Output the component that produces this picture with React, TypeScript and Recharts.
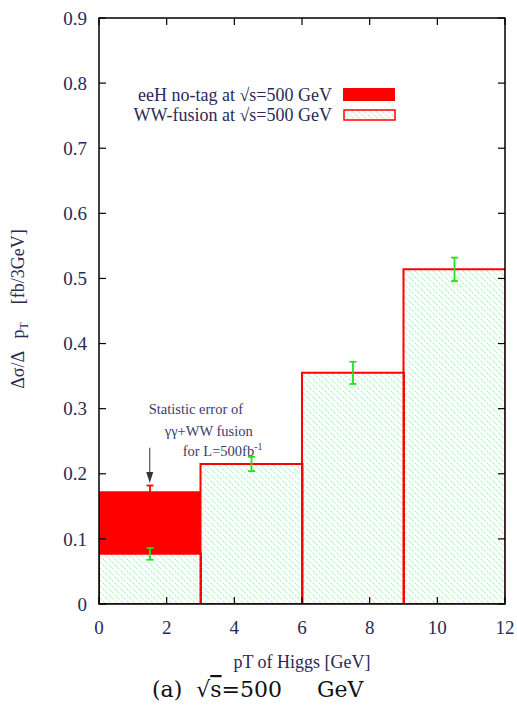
import {
  ComposedChart,
  Bar,
  XAxis,
  YAxis,
  ErrorBar,
  Legend,
  ReferenceArea,
  ReferenceDot,
  ReferenceLine,
} from "recharts";

// bins of 3 GeV, centres on the pT axis
const binCenters = [1.5, 4.5, 7.5, 10.5];
const wwFusion = [0.077, 0.215, 0.355, 0.514];
const wwError = [0.009, 0.011, 0.017, 0.018];
// eeH no-tag sits on top of WW-fusion (only first bin)
const eeNoTag = [0.096, 0, 0, 0];
const eeError = [0.009, null, null, null];

const xTicks = [0, 2, 4, 6, 8, 10, 12];
const yTicks = [0, 0.1, 0.2, 0.3, 0.4, 0.5, 0.6, 0.7, 0.8, 0.9];

const legendNames = ["eeH no-tag at √s=500 GeV", "WW-fusion at √s=500 GeV"];

const data = binCenters.map((x, i) => ({
  pt: x,
  ww: wwFusion[i],
  wwErr: wwError[i],
  ee: eeNoTag[i],
  eeErr: eeError[i],
}));

const W = 517;
const H = 705;
const TOP = 18;
const LEFT = 99;
const RIGHT = W - 12;
const SERIF = "'Liberation Serif', 'Times New Roman', serif";
const INK = "#2a2a55";

const XTick = ({ x, y, payload }: any) => (
  <g>
    <line x1={x} x2={x} y1={y} y2={y - 7} stroke="#000" strokeWidth={1.2} />
    <line x1={x} x2={x} y1={TOP} y2={TOP + 7} stroke="#000" strokeWidth={1.2} />
    <text x={x} y={y + 30} textAnchor="middle" fontFamily={SERIF} fontSize={19} fill={INK}>
      {payload.value}
    </text>
  </g>
);

const YTick = ({ x, y, payload }: any) => (
  <g>
    <line x1={LEFT} x2={LEFT + 7} y1={y} y2={y} stroke="#000" strokeWidth={1.2} />
    <line x1={RIGHT} x2={RIGHT - 7} y1={y} y2={y} stroke="#000" strokeWidth={1.2} />
    <text x={x - 12} y={y} dy="0.35em" textAnchor="end" fontFamily={SERIF} fontSize={19} fill={INK}>
      {payload.value}
    </text>
  </g>
);

const YTitle = ({ viewBox }: any) => {
  const cx = viewBox.x + 24;
  const cy = viewBox.y + viewBox.height / 2 - 2;
  return (
    <text
      x={cx}
      y={cy}
      transform={`rotate(-90 ${cx} ${cy})`}
      textAnchor="middle"
      fontFamily={SERIF}
      fontSize={18}
      fill={INK}
      style={{ whiteSpace: "pre" }}
    >
      {"Δσ/Δ   p"}
      <tspan dy={4} fontSize={12}>T</tspan>
      <tspan dy={-4}>{"    [fb/3GeV]"}</tspan>
    </text>
  );
};

const XTitle = ({ viewBox }: any) => (
  <g>
    <text
      x={viewBox.x + viewBox.width / 2}
      y={viewBox.y + 64}
      textAnchor="middle"
      fontFamily={SERIF}
      fontSize={18}
      fill={INK}
    >
      pT of Higgs [GeV]
    </text>
    <text
      x={viewBox.x + 53}
      y={viewBox.y + 93}
      textAnchor="start"
      fontFamily="'DejaVu Serif', serif"
      fontSize={22}
      fill="#111"
      style={{ whiteSpace: "pre" }}
    >
      {"(a)  √"}
      <tspan style={{ textDecoration: "overline" }}>s</tspan>
      {"=500     GeV"}
    </text>
  </g>
);

const Note = ({ cx, cy }: any) => (
  <g fontFamily={SERIF} fontSize={14.5} fill="#3b3b6b">
    <text x={cx - 1} y={cy + 5}>Statistic error of</text>
    <text x={cx + 15} y={cy + 27}>γγ+WW fusion</text>
    <text x={cx + 33} y={cy + 47}>
      for L=500fb
      <tspan dy={-6} fontSize={10}>-1</tspan>
    </text>
  </g>
);

const Arrow = ({ x1, y1, x2, y2 }: any) => (
  <g>
    <line x1={x1} y1={y1} x2={x2} y2={y2 - 8} stroke="#555" strokeWidth={1.2} />
    <polygon points={`${x2},${y2} ${x2 - 3.5},${y2 - 11} ${x2 + 3.5},${y2 - 11}`} fill="#333" />
  </g>
);

const LegendBox = () => (
  <div style={{ fontFamily: SERIF, fontSize: 18, color: INK, lineHeight: "20px" }}>
    {legendNames.map((name, i) => (
      <div key={name} style={{ display: "flex", alignItems: "center", height: 20 }}>
        <span style={{ width: 202, textAlign: "right", whiteSpace: "nowrap" }}>{name}</span>
        <svg width={54} height={14} style={{ marginLeft: 11 }}>
          {i === 0 ? (
            <rect x={0} y={0} width={52} height={13} fill="#ff0000" />
          ) : (
            <rect x={1} y={2} width={51} height={10} fill="url(#hatch)" stroke="#ff0000" strokeWidth={1.5} />
          )}
        </svg>
      </div>
    ))}
  </div>
);

export default function App() {
  return (
    <div style={{ position: "absolute", left: 0, top: 0, background: "#fff" }}>
      <ComposedChart
        width={W}
        height={H}
        data={data}
        margin={{ top: TOP, right: 12, bottom: 71, left: 0 }}
        barCategoryGap={0}
        barGap={0}
      >
        <defs>
          <pattern id="hatch" patternUnits="userSpaceOnUse" width={6} height={6}>
            <path d="M-1,-1 L7,7 M-1,5 L1,7 M5,-1 L7,1" stroke="#98e498" strokeWidth={1} strokeDasharray="1.5 1" />
          </pattern>
        </defs>
        <XAxis
          dataKey="pt"
          type="number"
          domain={[0, 12]}
          allowDataOverflow
          ticks={xTicks}
          tick={<XTick />}
          tickLine={false}
          tickSize={0}
          tickMargin={0}
          axisLine={false}
          height={30}
          label={<XTitle />}
        />
        <YAxis
          type="number"
          domain={[0, 0.9]}
          allowDataOverflow
          ticks={yTicks}
          tick={<YTick />}
          tickLine={false}
          tickSize={0}
          tickMargin={0}
          axisLine={false}
          width={LEFT}
          label={<YTitle />}
        />
        <Bar
          dataKey="ww"
          name={legendNames[1]}
          stackId="a"
          fill="url(#hatch)"
          stroke="#ff0000"
          strokeWidth={2}
          isAnimationActive={false}
        >
          <ErrorBar dataKey="wwErr" width={3.5} stroke="#22e022" strokeWidth={1.8} direction="y" />
        </Bar>
        <Bar dataKey="ee" name={legendNames[0]} stackId="a" fill="#ff0000" isAnimationActive={false}>
          <ErrorBar dataKey="eeErr" width={3.5} stroke="#ff0000" strokeWidth={1.8} direction="y" />
        </Bar>
        <ReferenceArea
          x1={0}
          x2={12}
          y1={0}
          y2={0.9}
          fill="none"
          stroke="#000"
          strokeWidth={1.5}
          {...({ zIndex: 700 } as any)}
        />
        <ReferenceLine
          segment={[
            { x: 1.5, y: 0.24 },
            { x: 1.5, y: 0.186 },
          ]}
          shape={(p: any) => <Arrow {...p} />}
        />
        <ReferenceDot x={1.5} y={0.3} r={0} shape={(p: any) => <Note {...p} />} />
        <Legend
          layout="vertical"
          align="center"
          verticalAlign="middle"
          wrapperStyle={{ top: 85, left: 130, width: 270 }}
          content={<LegendBox />}
        />
      </ComposedChart>
    </div>
  );
}
